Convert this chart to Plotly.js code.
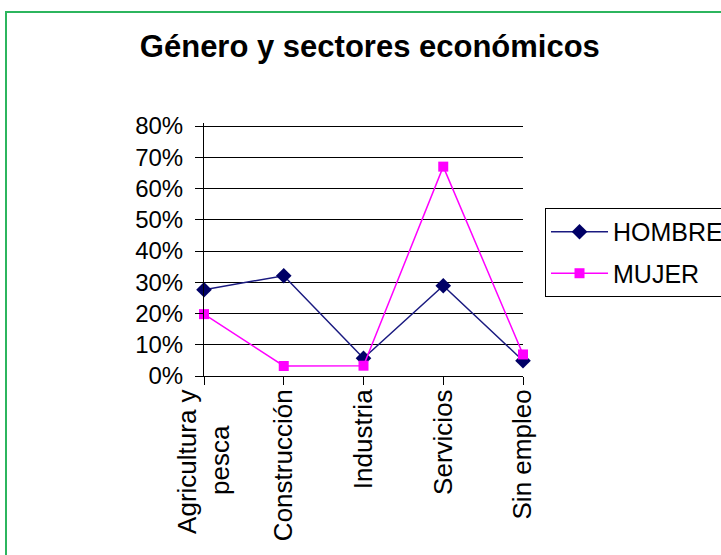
<!DOCTYPE html>
<html>
<head>
<meta charset="utf-8">
<script src="https://cdn.plot.ly/plotly-3.0.1.min.js"></script>
<style>
  html, body { margin: 0; padding: 0; background: #ffffff; overflow: hidden; }
  #chart { width: 721px; height: 555px; }
  #frame { position: absolute; left: 5px; top: 11px; width: 800px; height: 700px;
           border: 2px solid #2cb55e; pointer-events: none; box-sizing: border-box; }
</style>
</head>
<body>
<div id="chart"></div>
<div id="frame"></div>
<script>
const categories = ["Agricultura y pesca", "Construcción", "Industria", "Servicios", "Sin empleo"];
const tickLabels = ["Agricultura y<br>pesca\u00a0\u00a0\u00a0\u00a0\u00a0", "Construcción", "Industria", "Servicios", "Sin empleo"];
const hombre = [0.276, 0.321, 0.057, 0.289, 0.049];
const mujer  = [0.198, 0.032, 0.033, 0.670, 0.069];
const yTicks = [0, 0.1, 0.2, 0.3, 0.4, 0.5, 0.6, 0.7, 0.8];

const font = "Liberation Sans, Arial, sans-serif";

const traces = [
  {
    x: categories, y: hombre, name: "HOMBRE", type: "scatter", mode: "lines+markers",
    line: { color: "#1a1a80", width: 1.5 },
    marker: { symbol: "diamond", size: 12, color: "#000066" },
    cliponaxis: false, legendgroup: "a"
  },
  {
    x: categories, y: mujer, name: "MUJER", type: "scatter", mode: "lines+markers",
    line: { color: "#ff00ff", width: 1.5 },
    marker: { symbol: "square", size: 10, color: "#ff00ff" },
    cliponaxis: false, legendgroup: "b"
  }
];

const layout = {
  width: 721, height: 555,
  margin: { l: 204, r: 198, t: 123, b: 179, autoexpand: false },
  paper_bgcolor: "#ffffff", plot_bgcolor: "#ffffff",
  font: { family: font, color: "#000000", size: 24 },
  title: { text: "<b>Género y sectores económicos</b>", x: 0.513, xanchor: "center", y: 0.917, yanchor: "middle",
           font: { family: font, size: 31, color: "#000000" } },
  showlegend: true,
  legend: {
    x: 1.069, xanchor: "left", y: 0.6641, yanchor: "top",
    bordercolor: "#000000", borderwidth: 1, bgcolor: "#ffffff",
    font: { family: font, size: 25, color: "#000000" },
    traceorder: "grouped", tracegroupgap: 6, itemwidth: 57
  },
  xaxis: {
    type: "category", range: [0, 4], showgrid: false, zeroline: false,
    showline: true, linecolor: "#000000", linewidth: 1,
    ticks: "outside", ticklen: 8, tickcolor: "#000000", tickangle: -90,
    tickvals: categories, ticktext: tickLabels,
    ticklabelstandoff: -6,
    tickfont: { family: font, size: 26, color: "#000000" }, fixedrange: true
  },
  yaxis: {
    range: [0, 0.8096], tickvals: yTicks, tickformat: ".0%",
    showgrid: true, gridcolor: "#000000", gridwidth: 1, zeroline: false,
    showline: true, linecolor: "#000000", linewidth: 1,
    ticks: "outside", ticklen: 8, tickcolor: "#000000",
    ticklabelstandoff: 7,
    tickfont: { family: font, size: 24, color: "#000000" }, fixedrange: true
  }
};

Plotly.newPlot("chart", traces, layout, { displayModeBar: false, staticPlot: true });
</script>
</body>
</html>
